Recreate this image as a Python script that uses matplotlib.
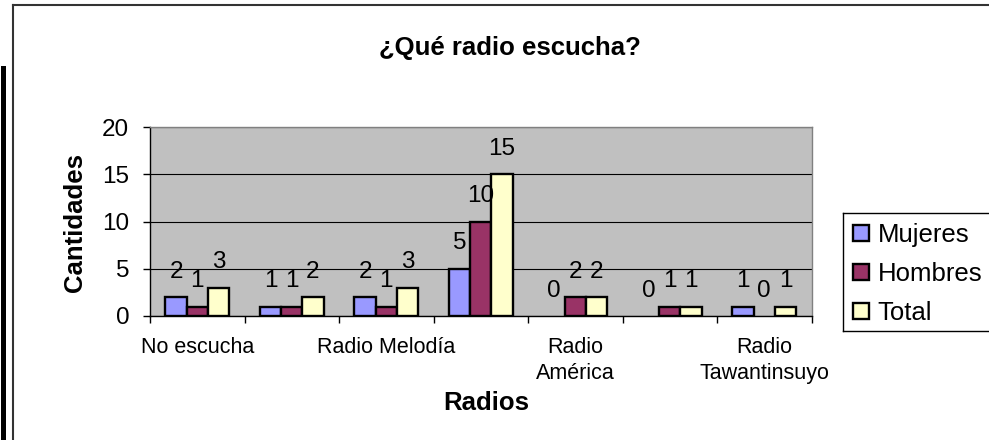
import matplotlib
matplotlib.use('Agg')
import matplotlib.pyplot as plt
from matplotlib.lines import Line2D
import numpy as np

plt.rcParams['font.family'] = ['Liberation Sans', 'DejaVu Sans']

# data
categories = ['No escucha', '', 'Radio Melodía', '', 'Radio\nAmérica', '', 'Radio\nTawantinsuyo']
series_names = ['Mujeres', 'Hombres', 'Total']
mujeres = [2, 1, 2, 5, 0, 0, 1]
hombres = [1, 1, 1, 10, 2, 1, 0]
total = [3, 2, 3, 15, 2, 1, 1]
colors = ['#9999FF', '#993366', '#FFFFCC']
y_ticks = [0, 5, 10, 15, 20]

W, H = 989, 440
fig = plt.figure(figsize=(W / 100, H / 100), dpi=100)
fig.patch.set_facecolor('white')

# plot area in pixels: left 150, right 811.5, top 127, bottom 316
ax = fig.add_axes([150 / W, 1 - 316 / H, 661.5 / W, 189 / H])
ax.set_facecolor('#C0C0C0')

x = np.arange(len(categories))
bw = 0.224
for i, (vals, name) in enumerate(zip([mujeres, hombres, total], series_names)):
    xs = x + (i - 1) * bw
    # zero bars have no visible outline in the original
    lws = [1.7 if v else 0 for v in vals]
    ax.bar(xs, vals, width=bw, color=colors[i], edgecolor='black',
           linewidth=lws, label=name, zorder=3)
    for xi, v in zip(xs, vals):
        ax.annotate(str(v), (xi, v), xytext=(0, 14), textcoords='offset points',
                    ha='center', va='baseline', fontsize=17.5, zorder=4)

ax.set_xlim(-0.5, len(categories) - 0.5)
ax.set_ylim(0, 20)
ax.set_yticks(y_ticks)
ax.tick_params(axis='y', direction='out', length=5, width=1, pad=10,
               labelsize=17.5, color='black')
ax.yaxis.grid(True, color='black', linewidth=0.8, zorder=1)
ax.set_axisbelow(True)

# ticks on category boundaries, labels in the middle
ax.set_xticks(np.arange(len(categories) + 1) - 0.5)
ax.set_xticklabels([])
ax.set_xticks(x, minor=True)
ax.set_xticklabels(categories, minor=True, fontsize=15.5, linespacing=1.35)
ax.tick_params(axis='x', which='major', direction='out', length=5, width=1)
ax.tick_params(axis='x', which='minor', length=0, pad=15)

for side in ['top', 'right']:
    ax.spines[side].set_color('#808080')
    ax.spines[side].set_linewidth(1)
for side in ['left', 'bottom']:
    ax.spines[side].set_color('black')
    ax.spines[side].set_linewidth(1)

fig.text(510 / W, 1 - 55 / H, '¿Qué radio escucha?', ha='center', va='baseline',
         fontsize=18.5, fontweight='bold')
fig.text(486 / W, 1 - 410 / H, 'Radios', ha='center', va='baseline',
         fontsize=18.5, fontweight='bold')
fig.text(75 / W, 1 - 222 / H, 'Cantidades', ha='center', va='center',
         rotation=90, fontsize=18.5, fontweight='bold')

# legend frame runs off the right edge of the picture: left, top and bottom only
lx, ltop, lbot = 843 / W, 1 - 213 / H, 1 - 331 / H
for xs_, ys_ in [([lx, lx], [lbot, ltop]), ([lx, 1], [ltop, ltop]), ([lx, 1], [lbot, lbot])]:
    fig.add_artist(Line2D(xs_, ys_, color='black', linewidth=1,
                          transform=fig.transFigure))
fig.legend(loc='upper left', bbox_to_anchor=(lx, ltop),
           fontsize=18.5, frameon=False,
           borderpad=0.4, handlelength=0.6, handleheight=0.6,
           handletextpad=0.35, labelspacing=0.58, borderaxespad=0)

# chart border and the page edge on the left
fig.add_artist(Line2D([13 / W, 13 / W], [0, 1 - 5 / H], color='#333333',
                      linewidth=1.5, transform=fig.transFigure))
fig.add_artist(Line2D([13 / W, 1], [1 - 5 / H, 1 - 5 / H], color='#333333',
                      linewidth=1.5, transform=fig.transFigure))
fig.add_artist(Line2D([2.5 / W, 2.5 / W], [0, 1 - 68 / H], color='black',
                      linewidth=3.6, transform=fig.transFigure))

fig.savefig('out.png', dpi=100)
